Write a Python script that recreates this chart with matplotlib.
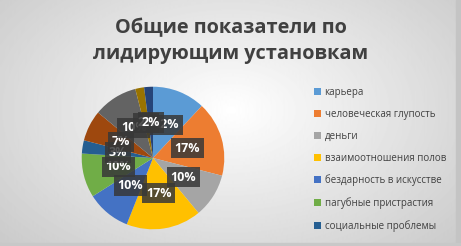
import matplotlib.pyplot as plt
import numpy as np
from matplotlib.patches import Rectangle

# legend only shows the first seven categories
categories = [
    "карьера",
    "человеческая глупость",
    "деньги",
    "взаимоотношения полов",
    "бездарность в искусстве",
    "пагубные пристрастия",
    "социальные проблемы",
]
shares = [12, 17, 10, 17, 10, 10, 3, 7, 10, 2, 2]
colors = [
    "#5B9BD5", "#ED7D31", "#A5A5A5", "#FFC000", "#4472C4", "#70AD47",
    "#255E91", "#9E480E", "#636363", "#997300", "#264478",
]
title = "Общие показатели по\nлидирующим установкам"

plt.rcParams["font.family"] = ["Open Sans", "DejaVu Sans"]

W, H = 461, 246
fig = plt.figure(figsize=(W / 100, H / 100), dpi=100)

# radial grey background
bg = fig.add_axes([0, 0, 1, 1])
yy, xx = np.mgrid[0:H, 0:W]
d = np.sqrt(((xx - 230) / 300.0) ** 2 + ((yy - 110) / 190.0) ** 2)
shade = np.clip(1.0 - 0.2 * d, 0.78, 1.0)
bg.imshow(shade, cmap="gray", vmin=0, vmax=1, extent=[0, W, H, 0], aspect="auto")
bg.add_patch(Rectangle((W - 5, 0), 5, H, color="#c4c4c4"))
bg.add_patch(Rectangle((0, H - 3), W, 3, color="#c8c8c8"))
bg.set_xlim(0, W)
bg.set_ylim(H, 0)
bg.axis("off")

fig.text(0.5, 1 - 41 / H, title, ha="center", va="center", fontsize=14.3,
         fontweight="bold", color="#404040", linespacing=1.4)

ax = fig.add_axes([(153 - 72) / W, (H - 158 - 72) / H, 144 / W, 144 / H])
wedges, _, autotexts = ax.pie(
    shares,
    colors=colors,
    startangle=90,
    counterclock=False,
    autopct="%d%%",
    pctdistance=0.5,
    wedgeprops={"linewidth": 0},
)
for t in autotexts:
    t.set_color("white")
    t.set_fontweight("bold")
    t.set_fontsize(9)
    t.set_bbox({"boxstyle": "square,pad=0.3", "fc": (0.22, 0.22, 0.22, 0.85), "ec": "none"})
ax.set_xlim(-1.01, 1.01)
ax.set_ylim(-1.01, 1.01)
ax.set_aspect("equal")

fig.legend(
    wedges[: len(categories)],
    categories,
    loc="upper left",
    bbox_to_anchor=(310 / W, 1 - 83 / H),
    frameon=False,
    fontsize=7,
    labelspacing=1.12,
    handlelength=0.7,
    handleheight=0.7,
    handletextpad=0.4,
    borderaxespad=0,
    labelcolor="#404040",
)

fig.savefig("out.png", dpi=100)
